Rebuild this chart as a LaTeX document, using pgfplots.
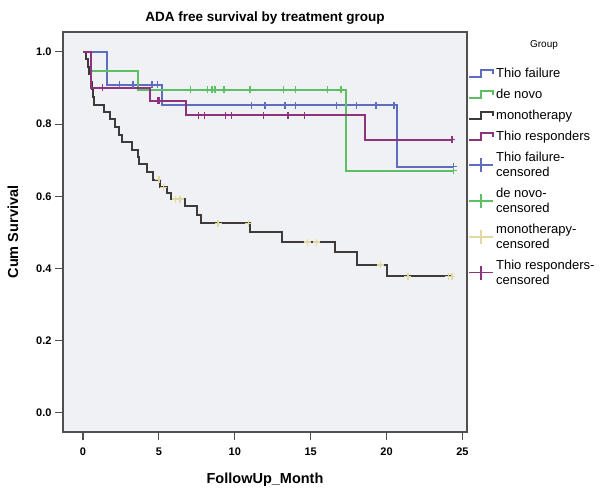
\documentclass[border=0pt]{standalone}
\usepackage{pgfplots}
\pgfplotsset{compat=1.18}
\usepackage{fontspec}
\setmainfont{Liberation Sans}

\definecolor{tfail}{HTML}{5F6CC0}
\definecolor{denovo}{HTML}{5CBF62}
\definecolor{mono}{HTML}{3F3A3A}
\definecolor{tresp}{HTML}{8E327E}
\definecolor{monoc}{HTML}{E2D9A0}
\definecolor{plotbg}{HTML}{EFF1F5}
\definecolor{frame}{HTML}{505050}

% step curves: y holds from x until the next x
\pgfplotstableread{
x y
0 1.0
1.6 0.909
5.2 0.852
20.7 0.682
24.4 0.682
}\tfailcurve
\pgfplotstableread{
x y
2.4 0.909
3.3 0.909
4.55 0.909
4.9 0.909
11.1 0.852
12.0 0.852
13.3 0.852
14.0 0.852
16.7 0.852
18.0 0.852
19.3 0.852
20.5 0.852
24.4 0.682
}\tfailcens
\pgfplotstableread{
x y
0 1.0
0.5 0.947
3.6 0.895
17.3 0.671
24.4 0.671
}\denovocurve
\pgfplotstableread{
x y
7.1 0.895
8.2 0.895
8.5 0.895
8.7 0.895
9.3 0.895
11.0 0.895
13.2 0.895
14.0 0.895
16.1 0.895
17.0 0.895
24.4 0.671
}\denovocens
\pgfplotstableread{
x y
0 1.0
0.2 0.979
0.3 0.958
0.4 0.938
0.5 0.917
0.6 0.896
0.65 0.875
0.7 0.854
1.4 0.833
1.8 0.813
2.1 0.792
2.35 0.771
2.6 0.750
3.2 0.729
3.6 0.708
3.7 0.688
4.2 0.667
4.6 0.646
5.1 0.625
5.5 0.608
5.8 0.592
6.7 0.572
7.5 0.549
7.8 0.525
11.0 0.500
13.1 0.473
16.6 0.445
18.05 0.410
20.0 0.378
24.3 0.378
}\monocurve
\pgfplotstableread{
x y
5.0 0.646
5.3 0.625
6.1 0.592
6.4 0.592
8.9 0.525
10.9 0.525
14.8 0.473
15.4 0.473
19.6 0.410
21.4 0.378
24.1 0.378
24.3 0.378
}\monocens
\pgfplotstableread{
x y
0 1.0
0.5 0.900
4.4 0.864
6.8 0.825
18.6 0.757
24.4 0.757
}\trespcurve
\pgfplotstableread{
x y
1.3 0.900
4.9 0.864
5.0 0.864
7.6 0.825
8.0 0.825
9.4 0.825
9.8 0.825
11.9 0.825
13.5 0.825
14.6 0.825
24.3 0.757
}\trespcens

\pgfplotsset{
  steplegend/.style={legend image code/.code={
    \draw[##1] (0pt,-3pt) -- (12pt,-3pt) -- (12pt,4pt) -- (24pt,4pt) -- (24pt,0pt);}},
  censlegend/.style={legend image code/.code={
    \draw[##1] (0pt,0pt) -- (24pt,0pt) (12pt,-7pt) -- (12pt,7pt);}},
}

\begin{document}
\begin{tikzpicture}
\begin{axis}[
  name=ax,
  width=404pt, height=400pt, scale only axis,
  xmin=-1.32, xmax=25.3, ymin=-0.053, ymax=1.055,
  xtick={0,5,10,15,20,25},
  ytick={0,0.2,0.4,0.6,0.8,1.0},
  yticklabel style={/pgf/number format/.cd, fixed, fixed zerofill, precision=1},
  xticklabel style={yshift=-4pt},
  /pgf/number format/assume math mode=true,
  ticklabel style={font=\bfseries\fontsize{11}{13}\selectfont},
  tick align=outside, xtick pos=bottom, ytick pos=left,
  major tick length=8pt,
  tick style={frame, line width=1.1pt},
  axis line style={frame, line width=1.3pt},
  axis background/.style={fill=plotbg},
  title={ADA free survival by treatment group},
  title style={font=\bfseries\fontsize{13.5}{15}\selectfont, at={(axis description cs:0.5,1.02)}, anchor=center},
  xlabel={FollowUp\_Month},
  xlabel style={font=\bfseries\fontsize{14.5}{16}\selectfont, at={(axis description cs:0.5,-0.12)}, anchor=center},
  ylabel={Cum Survival},
  ylabel style={font=\bfseries\fontsize{14.5}{16}\selectfont, at={(axis description cs:-0.124,0.5)}, anchor=center},
  legend style={at={(axis description cs:0.995,0.917)}, anchor=north west,
    draw=none, fill=none, font=\fontsize{13}{15}\selectfont,
    nodes={align=left, inner sep=1pt}, row sep=8pt, column sep=1pt},
  legend cell align=left,
]
\addplot[const plot, tfail, line width=2pt, steplegend] table {\tfailcurve};
\addlegendentry{Thio failure}
\addplot[const plot, denovo, line width=2pt, steplegend] table {\denovocurve};
\addlegendentry{de novo}
\addplot[const plot, mono, line width=2pt, steplegend] table {\monocurve};
\addlegendentry{monotherapy}
\addplot[const plot, tresp, line width=2pt, steplegend] table {\trespcurve};
\addlegendentry{Thio responders}
\addplot[only marks, mark=+, mark size=3.5pt, tfail, line width=1.4pt, censlegend] table {\tfailcens};
\addlegendentry{Thio failure-\\censored}
\addplot[only marks, mark=+, mark size=3.5pt, denovo, line width=1.4pt, censlegend] table {\denovocens};
\addlegendentry{de novo-\\censored}
\addplot[only marks, mark=+, mark size=3.5pt, monoc, line width=1.4pt, censlegend] table {\monocens};
\addlegendentry{monotherapy-\\censored}
\addplot[only marks, mark=+, mark size=3.5pt, tresp, line width=1.4pt, censlegend] table {\trespcens};
\addlegendentry{Thio responders-\\censored}
\end{axis}
\node[font=\fontsize{10}{12}\selectfont] at ([shift={(77pt,-13pt)}]ax.north east) {Group};
\pgfresetboundingbox
\path[use as bounding box] ([shift={(-63pt,-56pt)}]ax.south west) rectangle ([shift={(148pt,32pt)}]ax.north east);
\end{tikzpicture}
\end{document}
